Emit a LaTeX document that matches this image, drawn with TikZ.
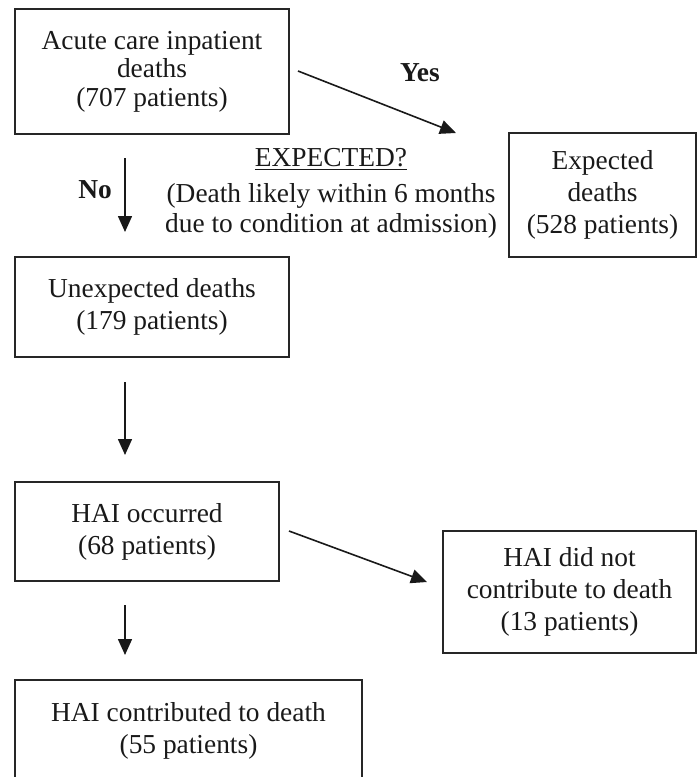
\documentclass[tikz,border=0pt]{standalone}
\usepackage{fontspec}
\setmainfont{Liberation Serif}
\usetikzlibrary{arrows.meta}
\begin{document}
\begin{tikzpicture}[x=0.5pt,y=-0.5pt,
  box/.style={draw=black!85, line width=1pt, align=center, inner sep=0pt,
    font=\fontsize{13.7}{16}\selectfont, text=black!90},
  arr/.style={draw=black!90, line width=0.8pt, -{Triangle[length=8pt,width=7pt]}},
  lbl/.style={inner sep=0pt, font=\fontsize{13.7}{15}\selectfont\bfseries, text=black!90},
  note/.style={inner sep=0pt, align=center, font=\fontsize{13.7}{15}\selectfont, text=black!90}]
\useasboundingbox (0,0) rectangle (697,777);
\clip (0,0) rectangle (697,777);

\node[box, minimum width=137pt, minimum height=62.5pt,
  font=\fontsize{13.7}{14.2}\selectfont] (acute) at (152,71.5)
  {Acute care inpatient\\deaths\\(707 patients)};
\node[box, minimum width=93.5pt, minimum height=62pt] (expected) at (602.5,195)
  {Expected\\deaths\\(528 patients)};
\node[box, minimum width=137pt, minimum height=50pt] (unexp) at (152,307)
  {Unexpected deaths\\(179 patients)};
\node[box, minimum width=132pt, minimum height=49.5pt] (hai) at (147,531.5)
  {HAI occurred\\(68 patients)};
\node[box, minimum width=126.5pt, minimum height=61pt] (hainot) at (569.5,592)
  {HAI did not\\contribute to death\\(13 patients)};
\node[box, minimum width=173.5pt, minimum height=51pt] (haicon) at (188.5,731)
  {HAI contributed to death\\(55 patients)};

\node[note] (question) at (331,193.5)
  {\underline{EXPECTED?}\\[3pt](Death likely within 6 months\\due to condition at admission)};

\coordinate (yesS) at (298,71);
\coordinate (yesE) at (456,133);
\coordinate (noS) at (125,158);
\coordinate (noE) at (125,232);
\coordinate (uS) at (125,382);
\coordinate (uE) at (125,455);
\coordinate (hnS) at (289,531);
\coordinate (hnE) at (427,582);
\coordinate (hcS) at (125,605);
\coordinate (hcE) at (125,655);

\draw[arr] (yesS) -- (yesE);
\draw[arr] (noS) -- (noE);
\draw[arr] (uS) -- (uE);
\draw[arr] (hnS) -- (hnE);
\draw[arr] (hcS) -- (hcE);

\node[lbl] (yes) at (420,73) {Yes};
\node[lbl] (no) at (95,190) {No};
\end{tikzpicture}
\end{document}
